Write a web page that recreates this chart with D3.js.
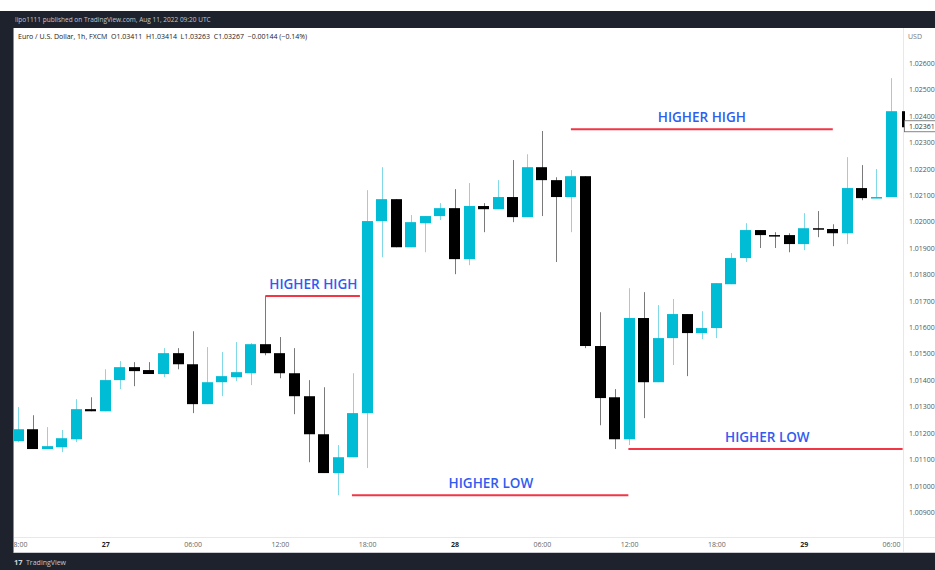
<!DOCTYPE html>
<html>
<head>
<meta charset="utf-8">
<script src="https://cdn.jsdelivr.net/npm/d3@7"></script>
<style>
  html, body { margin: 0; padding: 0; background: #fff; }
  svg { display: block; font-family: "Open Sans", "Noto Sans", sans-serif; }
</style>
</head>
<body>
<div id="chart"></div>
<script>
// EUR/USD 1h candles, 26 Jul 18:00 -> 29 Jul 06:00 (one per hour)
const opens = [
  1.01169, 1.01214, 1.01139, 1.01146, 1.01176, 1.01290, 1.01282, 1.01400, 1.01449, 1.01438,
  1.01423, 1.01502, 1.01460, 1.01309, 1.01392, 1.01411, 1.01426, 1.01536, 1.01502, 1.01426,
  1.01339, 1.01195, 1.01048, 1.01108, 1.01275, 1.02002, 1.02085, 1.01903, 1.01994, 1.02021,
  1.02051, 1.01858, 1.02059, 1.02047, 1.02093, 1.02017, 1.02206, 1.02157, 1.02093, 1.02172,
  1.01529, 1.01335, 1.01176, 1.01635, 1.01392, 1.01559, 1.01650, 1.01578, 1.01597, 1.01763,
  1.01862, 1.01968, 1.01949, 1.01949, 1.01915, 1.01975, 1.01972, 1.01956, 1.02127, 1.02089,
  1.02093
];
const highs = [
  1.01298, 1.01267, 1.01222, 1.01211, 1.01328, 1.01335, 1.01441, 1.01472, 1.01468, 1.01468,
  1.01521, 1.01521, 1.01585, 1.01525, 1.01506, 1.01544, 1.01540, 1.01718, 1.01563, 1.01521,
  1.01400, 1.01373, 1.01154, 1.01426, 1.02119, 1.02206, 1.02085, 1.02025, 1.02021, 1.02070,
  1.02123, 1.02146, 1.02070, 1.02157, 1.02233, 1.02255, 1.02343, 1.02168, 1.02195, 1.02172,
  1.01657, 1.01366, 1.01748, 1.01733, 1.01684, 1.01707, 1.01650, 1.01661, 1.01767, 1.01881,
  1.01994, 1.01968, 1.01960, 1.01956, 1.02032, 1.02040, 1.01990, 1.02244, 1.02214, 1.02199,
  1.02543
];
const lows = [
  1.01165, 1.01139, 1.01139, 1.01127, 1.01165, 1.01282, 1.01282, 1.01366, 1.01377, 1.01423,
  1.01411, 1.01441, 1.01275, 1.01309, 1.01339, 1.01396, 1.01381, 1.01494, 1.01407, 1.01271,
  1.01089, 1.01048, 1.00964, 1.01108, 1.01067, 1.01865, 1.01903, 1.01903, 1.01884, 1.02006,
  1.01801, 1.01835, 1.01960, 1.02047, 1.01998, 1.02017, 1.02021, 1.01847, 1.01960, 1.01521,
  1.01229, 1.01139, 1.01154, 1.01256, 1.01392, 1.01457, 1.01415, 1.01555, 1.01559, 1.01763,
  1.01847, 1.01900, 1.01900, 1.01884, 1.01892, 1.01941, 1.01907, 1.01915, 1.02081, 1.02089,
  1.02093
];
const closes = [
  1.01214, 1.01139, 1.01150, 1.01180, 1.01290, 1.01282, 1.01400, 1.01449, 1.01434, 1.01423,
  1.01502, 1.01460, 1.01309, 1.01392, 1.01415, 1.01430, 1.01536, 1.01502, 1.01426, 1.01339,
  1.01195, 1.01048, 1.01108, 1.01275, 1.02002, 1.02085, 1.01903, 1.01998, 1.02021, 1.02051,
  1.01858, 1.02059, 1.02047, 1.02093, 1.02017, 1.02206, 1.02157, 1.02093, 1.02172, 1.01529,
  1.01332, 1.01176, 1.01635, 1.01392, 1.01559, 1.01650, 1.01578, 1.01597, 1.01767, 1.01862,
  1.01968, 1.01949, 1.01945, 1.01915, 1.01975, 1.01972, 1.01956, 1.02127, 1.02089, 1.02093,
  1.02418
];

// time axis labels: candle index -> label
const timeTicks = [0, 6, 12, 18, 24, 30, 36, 42, 48, 54, 60];
const timeLabels = ['18:00', '27', '06:00', '12:00', '18:00', '28', '06:00', '12:00', '18:00', '29', '06:00'];
const dayTicks = [6, 30, 54];

// price axis
const priceTicks = [1.009, 1.010, 1.011, 1.012, 1.013, 1.014, 1.015, 1.016, 1.017, 1.018,
                    1.019, 1.020, 1.021, 1.022, 1.023, 1.024, 1.025, 1.026];
const lastPrice = 1.02361;

// swing annotations: price level, from/to candle index, label
const swings = [
  { label: 'HIGHER HIGH', price: 1.01718, from: 17, to: 23.5, textAt: 20.3 },
  { label: 'HIGHER LOW',  price: 1.00964, from: 22.95, to: 41.95, textAt: 32.5 },
  { label: 'HIGHER HIGH', price: 1.02350, from: 38.0, to: 56.0, textAt: 47.0 },
  { label: 'HIGHER LOW',  price: 1.01139, from: 41.95, to: 60.8, textAt: 51.5 }
];

const W = 935, H = 570;
const plot = { left: 13, right: 903, top: 28, bottom: 537 };

const svg = d3.select('#chart').append('svg')
  .attr('width', W).attr('height', H);

svg.append('rect').attr('width', W).attr('height', H).attr('fill', '#fff');

const x = d3.scaleLinear().domain([0, 60]).range([18, 891]);
const y = d3.scaleLinear().domain([1.00806, 1.02733]).range([plot.bottom, plot.top]);
const step = x(1) - x(0);
const bodyW = Math.round(step * 0.77);

svg.append('clipPath').attr('id', 'clip')
  .append('rect')
  .attr('x', plot.left).attr('y', plot.top)
  .attr('width', plot.right - plot.left).attr('height', plot.bottom - plot.top);

const candles = opens.map((o, i) => ({ i, o, h: highs[i], l: lows[i], c: closes[i] }));

const g = svg.append('g').attr('clip-path', 'url(#clip)');

// wicks
g.selectAll('line.wick')
  .data(candles)
  .enter().append('line')
  .attr('class', 'wick')
  .attr('x1', d => Math.round(x(d.i)) + 0.5)
  .attr('x2', d => Math.round(x(d.i)) + 0.5)
  .attr('y1', d => y(d.h))
  .attr('y2', d => y(d.l))
  .attr('stroke', d => d.c >= d.o ? '#7fd9e6' : '#7a7a7a')
  .attr('stroke-width', 1);

// bodies
g.selectAll('rect.body')
  .data(candles)
  .enter().append('rect')
  .attr('class', 'body')
  .attr('x', d => Math.round(x(d.i) - bodyW / 2))
  .attr('width', bodyW)
  .attr('y', d => y(Math.max(d.o, d.c)))
  .attr('height', d => Math.max(1.5, Math.abs(y(d.o) - y(d.c))))
  .attr('fill', d => d.c >= d.o ? '#00bcd4' : '#000000');

// swing lines and labels
const ann = svg.append('g');
swings.forEach(s => {
  ann.append('line')
    .attr('x1', x(s.from)).attr('x2', x(s.to))
    .attr('y1', y(s.price)).attr('y2', y(s.price))
    .attr('stroke', '#f23645')
    .attr('stroke-width', 2);
  ann.append('text')
    .attr('x', x(s.textAt))
    .attr('y', y(s.price) - 7)
    .attr('text-anchor', 'middle')
    .attr('fill', '#2f5cf0')
    .attr('font-size', '13.5px')
    .attr('font-weight', 600)
    .text(s.label);
});

// price axis
svg.append('line')
  .attr('x1', plot.right + 0.5).attr('x2', plot.right + 0.5)
  .attr('y1', plot.top).attr('y2', 553)
  .attr('stroke', '#e6e8ee');

const yAxis = svg.append('g')
  .attr('transform', `translate(${plot.right + 1},0)`)
  .call(d3.axisRight(y).tickValues(priceTicks).tickFormat(d3.format('.5f')).tickSize(0).tickPadding(5));
yAxis.select('.domain').remove();
yAxis.selectAll('text')
  .attr('fill', '#555')
  .attr('font-size', '7px')
  .attr('font-family', '"Open Sans", sans-serif');

svg.append('text')
  .attr('x', 908).attr('y', 39)
  .attr('fill', '#777')
  .attr('font-size', '7px')
  .text('USD');

// last price marker
svg.append('rect')
  .attr('x', plot.right - 1).attr('y', y(closes[60]))
  .attr('width', 3).attr('height', y(lastPrice) - y(closes[60]) + 1)
  .attr('fill', '#000');
svg.append('rect')
  .attr('x', plot.right + 1.5).attr('y', y(lastPrice) - 5.5)
  .attr('width', 31).attr('height', 11)
  .attr('fill', '#fff')
  .attr('stroke', '#666')
  .attr('stroke-width', 0.8);
svg.append('text')
  .attr('x', plot.right + 6).attr('y', y(lastPrice))
  .attr('dy', '0.35em')
  .attr('fill', '#333')
  .attr('font-size', '7px')
  .text(d3.format('.5f')(lastPrice));

// time axis
svg.append('line')
  .attr('x1', plot.left).attr('x2', W)
  .attr('y1', plot.bottom + 0.5).attr('y2', plot.bottom + 0.5)
  .attr('stroke', '#e6e8ee');
svg.append('line')
  .attr('x1', plot.left).attr('x2', W)
  .attr('y1', 552.5).attr('y2', 552.5)
  .attr('stroke', '#c9cbd1');

const xAxis = svg.append('g')
  .attr('transform', `translate(0,${plot.bottom})`)
  .call(d3.axisBottom(x).tickValues(timeTicks)
    .tickFormat((d, i) => timeLabels[i]).tickSize(0).tickPadding(5));
xAxis.select('.domain').remove();
xAxis.selectAll('text')
  .attr('font-size', '7px')
  .attr('font-family', '"Open Sans", sans-serif')
  .attr('fill', d => dayTicks.includes(d) ? '#222' : '#666')
  .attr('font-weight', d => dayTicks.includes(d) ? 700 : 400);

// header line inside chart
svg.append('text')
  .attr('x', 18).attr('y', 39)
  .attr('fill', '#222')
  .attr('font-size', '7px')
  .attr('xml:space', 'preserve')
  .text('Euro / U.S. Dollar, 1h, FXCM  O1.03411  H1.03414  L1.03263  C1.03267  \u22120.00144 (\u22120.14%)');

// dark frame
const frame = '#1e222d';
svg.append('rect').attr('x', 0).attr('y', 11).attr('width', W).attr('height', 17).attr('fill', frame);
svg.append('rect').attr('x', 0).attr('y', 11).attr('width', 13).attr('height', H - 11).attr('fill', frame);
svg.append('rect').attr('x', 0).attr('y', 553).attr('width', W).attr('height', H - 553).attr('fill', frame);
svg.append('line')
  .attr('x1', 13.5).attr('x2', 13.5).attr('y1', 28).attr('y2', 553)
  .attr('stroke', '#8a8d95').attr('stroke-width', 1);

svg.append('text')
  .attr('x', 15).attr('y', 22)
  .attr('fill', '#c3c6ce')
  .attr('font-size', '6.5px')
  .text('lipo1111 published on TradingView.com, Aug 11, 2022 09:20 UTC');

svg.append('text')
  .attr('x', 14).attr('y', 565)
  .attr('fill', '#d1d4dc')
  .attr('font-size', '7.5px')
  .attr('font-weight', 700)
  .text('17');
svg.append('text')
  .attr('x', 26).attr('y', 565)
  .attr('fill', '#c3c6ce')
  .attr('font-size', '7px')
  .text('TradingView');
</script>
</body>
</html>
